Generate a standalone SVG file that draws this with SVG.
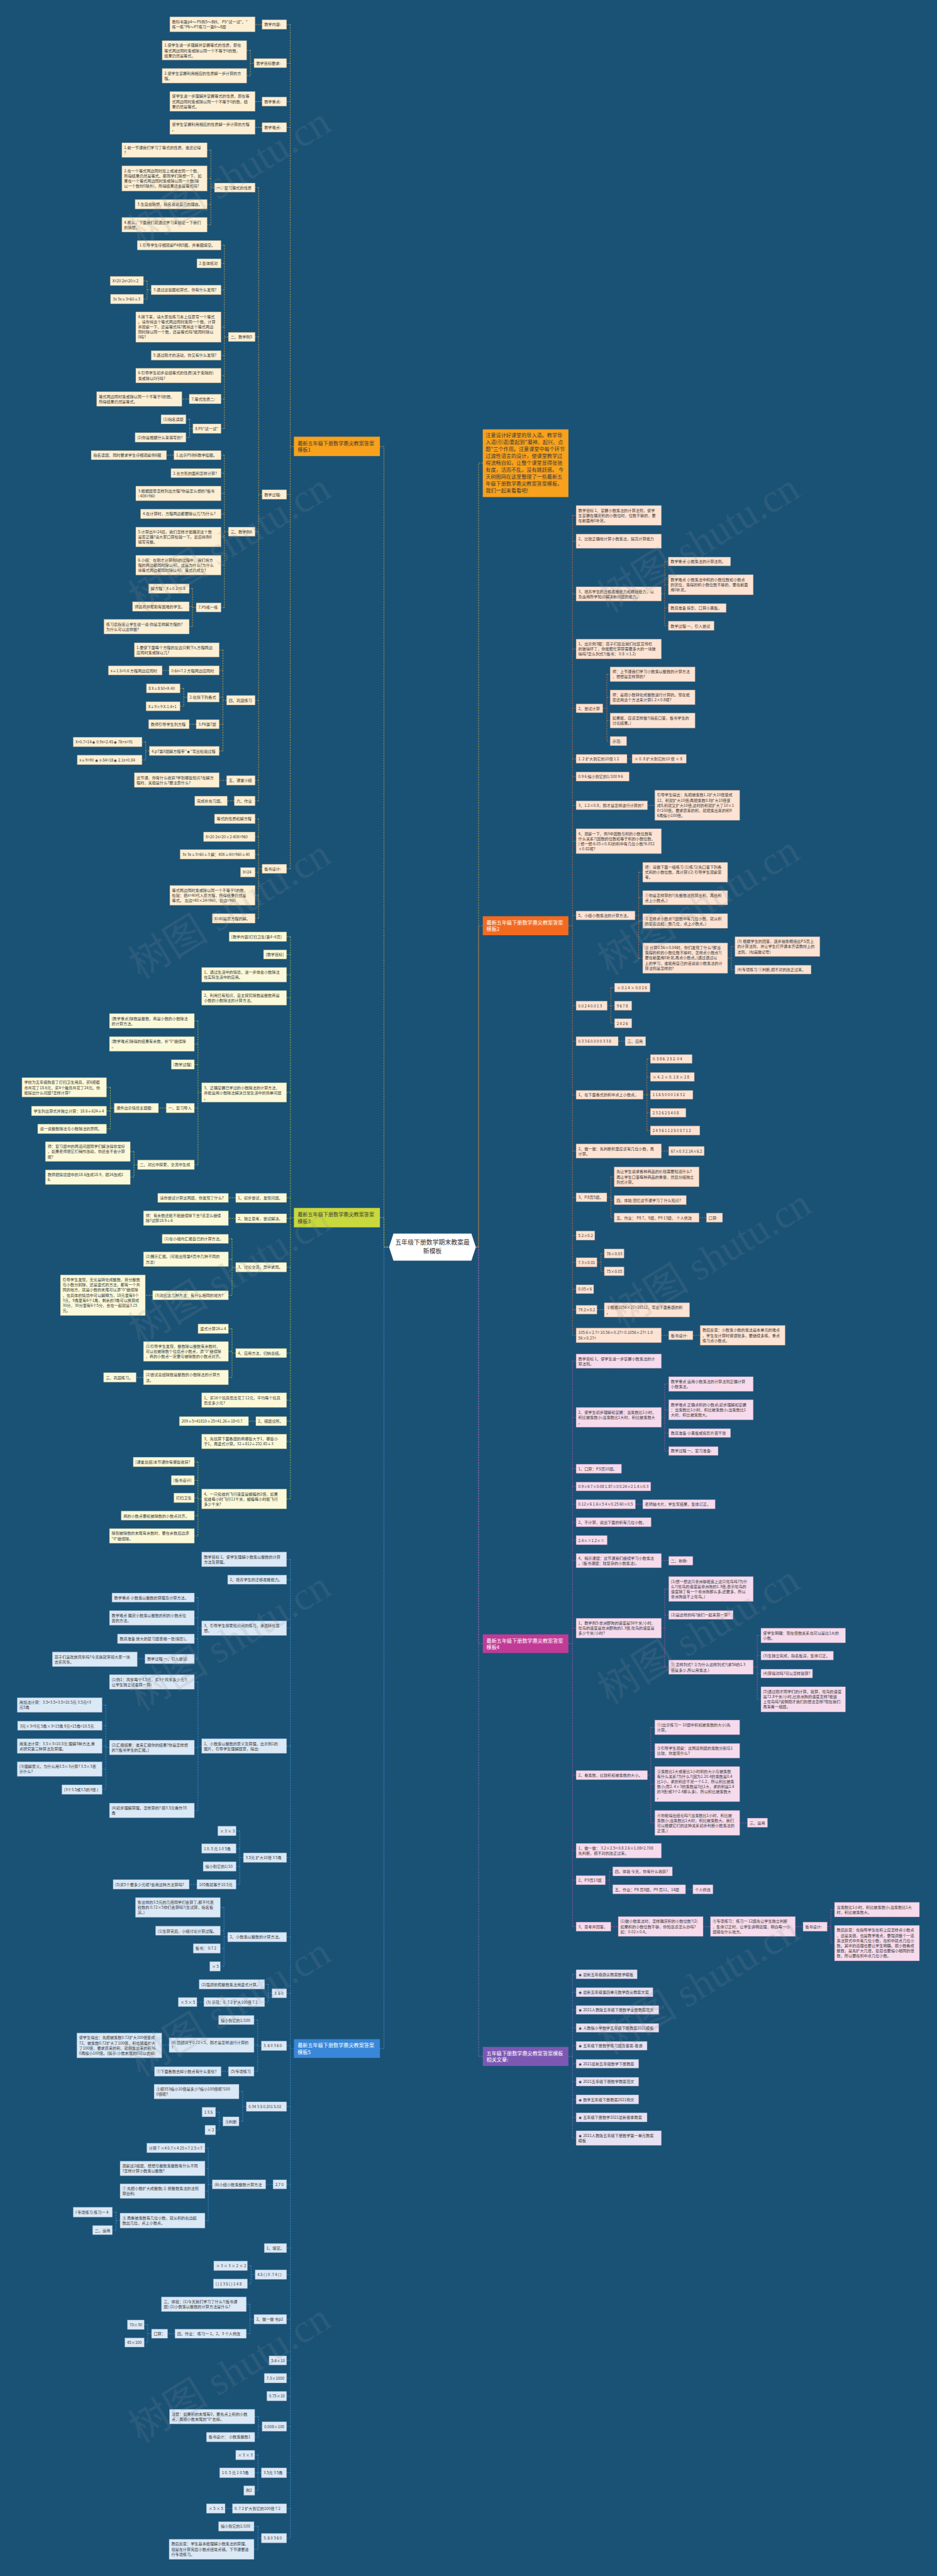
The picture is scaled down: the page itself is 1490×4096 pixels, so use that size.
<svg xmlns="http://www.w3.org/2000/svg" width="1490" height="4096" viewBox="0 0 1490 4096">
<style>
text{font-family:"Noto Sans CJK SC","Noto Sans",sans-serif;font-size:10.6px;fill:#3a3a3a}
g rect{stroke-width:1;stroke-dasharray:3 2}
.n1 rect{fill:#fcefd4;stroke:#a8926a}
.n3 rect{fill:#fbf9d9;stroke:#9fa366}
.n5 rect{fill:#dbe8f5;stroke:#7b9cbd}
.n2 rect{fill:#fde3d3;stroke:#c08c70}
.n4 rect{fill:#f6dbec;stroke:#ad7f9f}
.n6 rect{fill:#e7e1f1;stroke:#9186ab}
.br rect{stroke:none}
.br text{font-size:14px}
.w text{fill:#ffffff}
.c{fill:none;stroke-width:1.3;stroke-dasharray:4 3}
.c1{stroke:#e7ad3f}.c3{stroke:#c4d13f}.c5{stroke:#4c9ae4}.c2{stroke:#e97936}.c4{stroke:#c8559f}.c6{stroke:#9377c6}
.wm{font-family:"Liberation Serif","Noto Sans CJK SC",serif;font-size:110px;fill:#8a8f96;opacity:0.16}
</style>
<rect width="1490" height="4096" fill="#1a5276"/>
<g transform="scale(0.58203)">
<g id="connectors">
<path class="c c1" d="M1038,1220H1049V3407H1063M1319,1265H1307.5V3407H1300"/>
<path class="c c3" d="M1038,3326.5H1049V3407H1063"/>
<path class="c c5" d="M1038,5596.5H1049V3407H1063"/>
<path class="c c2" d="M1319,2529H1307.5V3407H1300"/>
<path class="c c4" d="M1319,4490.5H1307.5V3407H1300"/>
<path class="c c6" d="M1319,5618H1307.5V3407H1300"/>
<path class="c c1" d="M803,1220H793M793,67V2373.5M793,67H783M793,172.5H783M793,277.5H783M793,348H783M793,1351H783M793,2373.5H783M716,67H697M694,172.5H684M684,137.5V207M684,137.5H674M684,207H674M716,277.5H697M716,348H697M716,1351H706.5M706.5,512.5V2188M706.5,512.5H697M706.5,920.5H697M706.5,1452.5H697M706.5,1913H697M706.5,2132H697M706.5,2188H697M586,512.5H576M576,410V614M576,410H566M576,487.5H566M576,558H566M576,614H566M624,920.5H613M613,670V1171M613,670H604M613,719.5H604M613,792H604M613,893.5H604M613,971H604M613,1026H604M613,1090H604M613,1171H604M413,792H402M402,767.5V817M402,767.5H392M402,817H392M517,1090H497M527,1171H518M518,1145.5V1195M518,1145.5H508M518,1195H508M624,1452.5H613M613,1243.5V1659.5M613,1243.5H604M613,1292.5H604M613,1348H604M613,1404H604M613,1467H604M613,1544H604M613,1659.5H604M475,1243.5H455M536,1659.5H526M526,1608V1712M526,1608H517M526,1657H517M526,1712H517M619,1913H609M609,1775.5V2051.5M609,1775.5H599M609,1831.5H599M609,1905H599M609,1978.5H599M609,2051.5H599M462,1831.5H443M512,1905H502M502,1880.5V1929.5M502,1880.5H492M502,1929.5H492M536,1978.5H517M408,2051.5H398M398,2027V2076M398,2027H388M398,2076H388M619,2132H599M640,2188H621M716,2373.5H706.5M706.5,2237V2509M706.5,2237H697M706.5,2286H697M706.5,2334H697M706.5,2383H697M706.5,2446H697M706.5,2509H697"/>
<path class="c c3" d="M803,3326.5H793.5M793.5,2559V4095M793.5,2559H783M793.5,2607.5H783M793.5,2663H783M793.5,2726H783M793.5,2984.5H783M793.5,3272.5H783M793.5,3328.5H783M793.5,3462H783M793.5,3696.5H783M793.5,3825H783M793.5,3882.5H783M793.5,3938H783M793.5,4095H783M551,2984.5H541M541,2789V3182M541,2789H531M541,2852H531M541,2908H531M541,3027H531M541,3182H531M454,3027H433M312,3027H301.5M301.5,2970.5V3084M301.5,2970.5H291M301.5,3035H291M301.5,3084H291M376,3182H366M366,3146V3216M366,3146H356M366,3216H356M644,3272.5H624M644,3328.5H624M644,3462H634M634,3384.5V3538.5M634,3384.5H624M634,3440H624M634,3538.5H624M417,3538.5H397M644,3696.5H634M634,3630V3763M634,3630H624M634,3692H624M634,3763H624M392,3763H372M699,3882.5H679M551,4095H541M541,3994V4196M541,3994H531M541,4044H531M541,4092H531M541,4140.5H531M541,4196H531"/>
<path class="c c5" d="M803,5596.5H793.5M793.5,4260V6934M793.5,4260H783M793.5,4315.5H783M793.5,4448H783M793.5,4770H783M793.5,5075H783M793.5,5292H783M793.5,5445.5H783M793.5,5589H783M793.5,5755H783M793.5,5967.5H783M793.5,6141.5H783M793.5,6214H783M793.5,6336H783M793.5,6448.5H783M793.5,6497H783M793.5,6546H783M793.5,6629H783M793.5,6755.5H783M793.5,6853H783M793.5,6934H783M551,4448H541M541,4364.5V4532M541,4364.5H531M541,4420H531M541,4477H531M541,4532H531M396,4532H375M551,4770H541M541,4595V4946M541,4595H531M541,4774H531M541,4946H531M299,4774H289M289,4658V4889M289,4658H279M289,4714.5H279M289,4770H279M289,4833H279M289,4889H279M665,5075H655M655,5002V5148M655,5002H645M655,5050H645M655,5099H645M655,5148H645M538,5148H517M622,5292H612M612,5211V5372M612,5211H602M612,5274.5H602M612,5323H602M612,5372H602M743,5445.5H733M733,5421V5469.5M733,5421H723M733,5469.5H723M557,5469.5H538M714,5589H704M704,5518.5V5659M704,5518.5H694M704,5587H694M704,5659H694M462,5587H442M624,5659H604M673,5755H663M663,5714V5795.5M663,5714H653M663,5795.5H653M609,5795.5H599M599,5770V5819M599,5770H589M599,5819H589M746,5967.5H726M580,5967.5H569M569,5868V6066.5M569,5868H560M569,5924H560M569,5986H560M569,6066.5H560M328,6066.5H317M317,6043.5V6092.5M317,6043.5H307M317,6092.5H307M697,6214H686M686,6190V6239M686,6190H676M686,6239H676M694,6336H683M683,6295V6375.5M683,6295H673M683,6375.5H673M478,6375.5H458M414,6375.5H403.5M403.5,6351V6399.5M403.5,6351H394M403.5,6399.5H394M716,6629H706M706,6602V6658M706,6602H696M706,6658H696M714,6755.5H705M705,6707V6804M705,6707H696M705,6755.5H696M705,6804H696M635,6853H615M714,6934H705M705,6902V6964.5M705,6902H694M705,6964.5H694"/>
<path class="c c2" d="M1553,2529H1564M1564,1408V3648M1564,1408H1574M1564,1478.5H1574M1564,1622.5H1574M1564,1773H1574M1564,1935H1574M1564,2073H1574M1564,2121.5H1574M1564,2200H1574M1564,2298H1574M1564,2501H1574M1564,2747.5H1574M1564,2844.5H1574M1564,2991H1574M1564,3144.5H1574M1564,3271H1574M1564,3375.5H1574M1564,3448.5H1574M1564,3522H1574M1564,3578H1574M1564,3648H1574M1807,1622.5H1816M1816,1534V1709.5M1816,1534H1826M1816,1597.5H1826M1816,1661H1826M1816,1709.5H1826M1647,1935H1658M1658,1842V2024.5M1658,1842H1667M1658,1905H1667M1658,1968.5H1667M1658,2024.5H1667M1713,2073H1727M1769,2200H1789M1735,2501H1745M1745,2383V2617.5M1745,2383H1756M1745,2452.5H1756M1745,2516H1756M1745,2617.5H1756M1988,2617.5H1998M1998,2586V2649M1998,2586H2008M1998,2649H2008M1659,2747.5H1669M1669,2698V2795.5M1669,2698H1679M1669,2747.5H1679M1669,2795.5H1679M1689,2844.5H1708M1757,2991H1767.5M1767.5,2893V3088.5M1767.5,2893H1777M1767.5,2942H1777M1767.5,2991H1777M1767.5,3040H1777M1767.5,3088.5H1777M1807,3144.5H1827M1658,3271H1669M1669,3215V3326.5M1669,3215H1678M1669,3278.5H1678M1669,3326.5H1678M1910,3326.5H1930M1631,3448.5H1642M1642,3424.5V3473M1642,3424.5H1651M1642,3473H1651M1631,3578H1651M1807,3648H1827M1893,3648H1913"/>
<path class="c c4" d="M1553,4490.5H1564M1564,3718.5V5263.5M1564,3718.5H1574M1564,3872H1574M1564,4012.5H1574M1564,4061H1574M1564,4109.5H1574M1564,4158.5H1574M1564,4207.5H1574M1564,4263.5H1574M1564,4448H1574M1564,4849.5H1574M1564,5056H1574M1564,5136.5H1574M1564,5263.5H1574M1807,3872H1816M1816,3781V3964M1816,3781H1827M1816,3851.5H1827M1816,3915H1827M1816,3964H1827M1736,4109.5H1756M1807,4263.5H1827M1807,4448H1816M1816,4341V4554.5M1816,4341H1827M1816,4412H1827M1816,4554.5H1827M2058,4554.5H2069M2069,4468V4642.5M2069,4468H2079M2069,4523H2079M2069,4572H2079M2069,4642.5H2079M1769,4849.5H1778M1778,4719V4980M1778,4719H1789M1778,4783H1789M1778,4874H1789M1778,4980H1789M2021,4980H2042M1654,5136.5H1665M1665,5112.5V5161.5M1665,5112.5H1674M1665,5161.5H1674M1873,5161.5H1893M1669,5263.5H1689M1921,5263.5H1941M2173,5263.5H2194M2260,5263.5H2270M2270,5217V5308.5M2270,5217H2280M2270,5308.5H2280"/>
<path class="c c6" d="M1553,5618H1564M1564,5393.5V5841M1564,5393.5H1574M1564,5442.5H1574M1564,5491H1574M1564,5540H1574M1564,5589H1574M1564,5638H1574M1564,5687H1574M1564,5735.5H1574M1564,5784.5H1574M1564,5841H1574"/>
</g>
<g id="center"><polygon points="1063,3407 1075,3370 1288,3370 1300,3407 1288,3444 1075,3444" fill="#ffffff"/><text x="1181.5" y="3401" text-anchor="middle" style="font-size:17px;fill:#333">五年级下册数学期末教案最<tspan x="1181.5" dy="23">新模板</tspan></text></g>
<g id="branch1" class="br" transform="translate(803,1193)"><rect width="235" height="53" fill="#f7a11c"/><text x="10" y="23">最新五年级下册数学鼎尖教案答案<tspan x="10" dy="18">模板1</tspan></text></g>
<g id="branch3" class="br" transform="translate(803,3300)"><rect width="235" height="53" fill="#c9d83c"/><text x="10" y="23">最新五年级下册数学鼎尖教案答案<tspan x="10" dy="18">模板3</tspan></text></g>
<g id="branch5" class="br w" transform="translate(803,5571)"><rect width="235" height="51" fill="#3887d8"/><text x="10" y="22">最新五年级下册数学鼎尖教案答案<tspan x="10" dy="18">模板5</tspan></text></g>
<g id="intro" class="br" transform="translate(1319,1173)"><rect width="234" height="185" fill="#f7a11c"/><text x="8" y="21">注意设计好课堂的导入语。教学导<tspan x="8" dy="19">入语(引语)要起到"凝神、起兴、点</tspan><tspan x="8" dy="19">题"三个作用。注意课堂中每个环节</tspan><tspan x="8" dy="19">过渡性语言的设计，使课堂教学过</tspan><tspan x="8" dy="19">程流畅自如，让整个课堂显得张弛</tspan><tspan x="8" dy="19">有度，活而不乱，没有跳跃感。 今</tspan><tspan x="8" dy="19">天树图网在这里整理了一些最新五</tspan><tspan x="8" dy="19">年级下册数学鼎尖教案答案模板，</tspan><tspan x="8" dy="19">我们一起来看看吧!</tspan></text></g>
<g id="branch2" class="br w" transform="translate(1319,2503)"><rect width="234" height="52" fill="#f26a1f"/><text x="10" y="22">最新五年级下册数学鼎尖教案答案<tspan x="10" dy="18">模板2</tspan></text></g>
<g id="branch4" class="br w" transform="translate(1319,4465)"><rect width="234" height="51" fill="#c13b96"/><text x="10" y="22">最新五年级下册数学鼎尖教案答案<tspan x="10" dy="18">模板4</tspan></text></g>
<g id="branch6" class="br w" transform="translate(1319,5592)"><rect width="234" height="52" fill="#7d58b3"/><text x="10" y="22">五年级下册数学鼎尖教案答案模板<tspan x="10" dy="18">相关文章:</tspan></text></g>
<g id="t1nodes">
<g id="a1" class="n1" transform="translate(464,46)"><rect width="233" height="41"/><text x="6" y="17">教科书第p4～ P5例5～例6、 P5"试一试"、"<tspan x="6" dy="14">练一练"P6～P7练习一第6～8题</tspan></text></g>
<g id="a2" class="n1" transform="translate(716,54)"><rect width="67" height="26"/><text x="6" y="17">教学内容:</text></g>
<g id="a3" class="n1" transform="translate(443,111)"><rect width="231" height="53"/><text x="6" y="17">1.使学生进一步理解并掌握等式的性质，即在<tspan x="6" dy="14">等式两边同时乘或除以同一个不等于0的数，</tspan><tspan x="6" dy="14">结果仍然是等式。</tspan></text></g>
<g id="a4" class="n1" transform="translate(443,187)"><rect width="231" height="40"/><text x="6" y="17">2.使学生掌握利用相应的性质解一步计算的方<tspan x="6" dy="14">程。</tspan></text></g>
<g id="a5" class="n1" transform="translate(694,160)"><rect width="89" height="25"/><text x="6" y="17">教学目标要求:</text></g>
<g id="a6" class="n1" transform="translate(464,250)"><rect width="233" height="54"/><text x="6" y="17">使学生进一步理解并掌握等式的性质，即在等<tspan x="6" dy="14">式两边同时乘或除以同一个不等于0的数，结</tspan><tspan x="6" dy="14">果仍然是等式。</tspan></text></g>
<g id="a7" class="n1" transform="translate(716,265)"><rect width="67" height="25"/><text x="6" y="17">教学重点:</text></g>
<g id="a8" class="n1" transform="translate(464,327)"><rect width="233" height="40"/><text x="6" y="17">使学生掌握利用相应的性质解一步计算的方程<tspan x="6" dy="14">。</tspan></text></g>
<g id="a9" class="n1" transform="translate(716,335)"><rect width="67" height="26"/><text x="6" y="17">教学难点:</text></g>
<g id="a10" class="n1" transform="translate(333,390)"><rect width="233" height="40"/><text x="6" y="17">1.前一节课我们学习了等式的性质，谁还记得<tspan x="6" dy="14">?</tspan></text></g>
<g id="a11" class="n1" transform="translate(333,453)"><rect width="233" height="69"/><text x="6" y="17">2.在一个等式两边同时加上或减去同一个数，<tspan x="6" dy="14">所得结果仍然是等式。那同学们猜想一下，如</tspan><tspan x="6" dy="14">果在一个等式两边同时乘或除以同一个数(除</tspan><tspan x="6" dy="14">以一个数时0除外)，所得结果还会是等式吗?</tspan></text></g>
<g id="a12" class="n1" transform="translate(369,545)"><rect width="197" height="26"/><text x="6" y="17">3.生自由猜想，指名说说自己的理由。</text></g>
<g id="a13" class="n1" transform="translate(333,594)"><rect width="233" height="40"/><text x="6" y="17">4.那么，下面我们就通过学习来验证一下我们<tspan x="6" dy="14">的猜想。</tspan></text></g>
<g id="a14" class="n1" transform="translate(586,500)"><rect width="111" height="25"/><text x="6" y="17">一、复习等式的性质</text></g>
<g id="a15" class="n1" transform="translate(375,657)"><rect width="229" height="26"/><text x="6" y="17">1.引导学生仔细观察P4例5图，并看图填空。</text></g>
<g id="a16" class="n1" transform="translate(538,707)"><rect width="66" height="25"/><text x="6" y="17">2.集体核对</text></g>
<g id="a17" class="n1" transform="translate(301,755)"><rect width="91" height="25"/><text x="6" y="17">X=20 2x=20×2</text></g>
<g id="a18" class="n1" transform="translate(302,804)"><rect width="90" height="26"/><text x="6" y="17">3x 3x÷3=60÷3</text></g>
<g id="a19" class="n1" transform="translate(413,779)"><rect width="191" height="26"/><text x="6" y="17">3.通过这些图和算式，你有什么发现?</text></g>
<g id="a20" class="n1" transform="translate(371,852)"><rect width="233" height="83"/><text x="6" y="17">4.接下来，请大家在练习本上任意写一个等式<tspan x="6" dy="14">。请你将这个等式两边同时乘同一个数，计算</tspan><tspan x="6" dy="14">并观察一下，还是等式吗?再将这个等式两边</tspan><tspan x="6" dy="14">同时除以同一个数，还是等式吗?能同时除以</tspan><tspan x="6" dy="14">0吗?</tspan></text></g>
<g id="a21" class="n1" transform="translate(413,958)"><rect width="191" height="26"/><text x="6" y="17">5.通过刚才的活动，你又有什么发现?</text></g>
<g id="a22" class="n1" transform="translate(624,908)"><rect width="73" height="25"/><text x="6" y="17">二、教学例5</text></g>
<g id="a23" class="n1" transform="translate(371,1006)"><rect width="233" height="40"/><text x="6" y="17">6.引导学生初步总结等式的性质(关于乘除的)<tspan x="6" dy="14">乘或除以0行吗?</tspan></text></g>
<g id="a24" class="n1" transform="translate(264,1070)"><rect width="233" height="40"/><text x="6" y="17">等式两边同时乘或除以同一个不等于0的数，<tspan x="6" dy="14">所得结果仍然是等式。</tspan></text></g>
<g id="a25" class="n1" transform="translate(517,1077)"><rect width="87" height="26"/><text x="6" y="17">7.等式性质二:</text></g>
<g id="a26" class="n1" transform="translate(440,1133)"><rect width="68" height="25"/><text x="6" y="17">(1)指名读题</text></g>
<g id="a27" class="n1" transform="translate(369,1182)"><rect width="139" height="26"/><text x="6" y="17">(2)你是根据什么来填写的?</text></g>
<g id="a28" class="n1" transform="translate(527,1158)"><rect width="77" height="26"/><text x="6" y="17">8.P5"试一试"</text></g>
<g id="a29" class="n1" transform="translate(249,1231)"><rect width="206" height="25"/><text x="6" y="17">指名读题，同时要求学生仔细观察例6图</text></g>
<g id="a30" class="n1" transform="translate(475,1231)"><rect width="129" height="25"/><text x="6" y="17">1.出示P5例6教学挂图。</text></g>
<g id="a31" class="n1" transform="translate(467,1280)"><rect width="137" height="25"/><text x="6" y="17">2.长方形的面积怎样计算?</text></g>
<g id="a32" class="n1" transform="translate(371,1328)"><rect width="233" height="40"/><text x="6" y="17">3.根据题意怎样列出方程?你是怎么想的?板书<tspan x="6" dy="14">: 40X=960</tspan></text></g>
<g id="a33" class="n1" transform="translate(384,1391)"><rect width="220" height="26"/><text x="6" y="17">4.在计算时，方程两边都要除以几?为什么?</text></g>
<g id="a34" class="n1" transform="translate(371,1440)"><rect width="233" height="54"/><text x="6" y="17">5.计算出X=24后，我们怎样才能确定这个数<tspan x="6" dy="14">是否正确?请大家口算检验一下。最后将例6</tspan><tspan x="6" dy="14">填写完整。</tspan></text></g>
<g id="a35" class="n1" transform="translate(371,1517)"><rect width="233" height="54"/><text x="6" y="17">6.小结：在刚才计算例6的过程中，我们将方<tspan x="6" dy="14">程的两边都同时除以40，这是为什么?为什么</tspan><tspan x="6" dy="14">将等式两边都同时除以40，等式仍成立?</tspan></text></g>
<g id="a36" class="n1" transform="translate(406,1595)"><rect width="111" height="26"/><text x="6" y="17">解方程：X÷0.2=0.8</text></g>
<g id="a37" class="n1" transform="translate(362,1644)"><rect width="155" height="26"/><text x="6" y="17">师巡视并帮助有困难的学生。</text></g>
<g id="a38" class="n1" transform="translate(284,1692)"><rect width="233" height="40"/><text x="6" y="17">练习后指名让学生说一说:你是怎样解方程的?<tspan x="6" dy="14">为什么可以这样做?</tspan></text></g>
<g id="a39" class="n1" transform="translate(536,1647)"><rect width="68" height="25"/><text x="6" y="17">7.P5练一练</text></g>
<g id="a40" class="n1" transform="translate(624,1440)"><rect width="73" height="25"/><text x="6" y="17">三、教学例6</text></g>
<g id="a41" class="n1" transform="translate(716,1338)"><rect width="67" height="26"/><text x="6" y="17">教学过程:</text></g>
<g id="a42" class="n1" transform="translate(367,1756)"><rect width="232" height="39"/><text x="6" y="17">1.要使下面每个方程的左边只剩下x,方程两边<tspan x="6" dy="14">应同时乘或除以几?</tspan></text></g>
<g id="a43" class="n1" transform="translate(296,1819)"><rect width="147" height="25"/><text x="6" y="17">x÷1.5=0.6 方程两边应同时</text></g>
<g id="a44" class="n1" transform="translate(462,1819)"><rect width="137" height="25"/><text x="6" y="17">0.6x=7.2 方程两边应同时</text></g>
<g id="a45" class="n1" transform="translate(400,1868)"><rect width="92" height="25"/><text x="6" y="17">8 X÷8 50+X-40</text></g>
<g id="a46" class="n1" transform="translate(399,1917)"><rect width="93" height="25"/><text x="6" y="17">X÷9×9 X-1.4+1</text></g>
<g id="a47" class="n1" transform="translate(512,1892)"><rect width="87" height="26"/><text x="6" y="17">2.化简下列各式</text></g>
<g id="a48" class="n1" transform="translate(406,1966)"><rect width="111" height="25"/><text x="6" y="17">教师引导学生列方程</text></g>
<g id="a49" class="n1" transform="translate(536,1966)"><rect width="63" height="25"/><text x="6" y="17">3.P6第7题</text></g>
<g id="a50" class="n1" transform="translate(619,1900)"><rect width="78" height="26"/><text x="6" y="17">四、巩固练习</text></g>
<g id="a51" class="n1" transform="translate(200,2014)"><rect width="188" height="26"/><text x="6" y="17">X+0.7=14★ 0.9x=2.45★ 76+x=91</text></g>
<g id="a52" class="n1" transform="translate(211,2063)"><rect width="177" height="26"/><text x="6" y="17">x÷9=90 ★ x-54=18★ 2.1x=0.84</text></g>
<g id="a53" class="n1" transform="translate(408,2039)"><rect width="191" height="25"/><text x="6" y="17">4.p7第8题解方程带"★"写出检验过程</text></g>
<g id="a54" class="n1" transform="translate(367,2111)"><rect width="232" height="40"/><text x="6" y="17">这节课，你有什么收获?学到哪些知识?在解方<tspan x="6" dy="14">程时，关键是什么?要注意什么?</tspan></text></g>
<g id="a55" class="n1" transform="translate(619,2119)"><rect width="78" height="26"/><text x="6" y="17">五、课堂小结</text></g>
<g id="a56" class="n1" transform="translate(532,2175)"><rect width="89" height="26"/><text x="6" y="17">完成补充习题。</text></g>
<g id="a57" class="n1" transform="translate(640,2175)"><rect width="57" height="26"/><text x="6" y="17">六、作业</text></g>
<g id="a58" class="n1" transform="translate(586,2224)"><rect width="111" height="26"/><text x="6" y="17">等式的性质和解方程</text></g>
<g id="a59" class="n1" transform="translate(556,2273)"><rect width="141" height="26"/><text x="6" y="17">X=20 2x=20×2 40X=960</text></g>
<g id="a60" class="n1" transform="translate(492,2321)"><rect width="205" height="26"/><text x="6" y="17">3x 3x÷3=60÷3 解：40X÷40=960÷40</text></g>
<g id="a61" class="n1" transform="translate(657,2370)"><rect width="40" height="26"/><text x="6" y="17">X=24</text></g>
<g id="a62" class="n1" transform="translate(464,2419)"><rect width="233" height="54"/><text x="6" y="17">等式两边同时乘或除以同一个不等于0的数，<tspan x="6" dy="14">检验：把x=40代入原方程，所得结果仍然是</tspan><tspan x="6" dy="14">等式。 左边=40×24=960，右边=960</tspan></text></g>
<g id="a63" class="n1" transform="translate(580,2496)"><rect width="117" height="26"/><text x="6" y="17">X=40是原方程的解。</text></g>
<g id="a64" class="n1" transform="translate(716,2361)"><rect width="67" height="25"/><text x="6" y="17">板书设计:</text></g>
</g>
<g id="t3nodes">
<g id="b1" class="n3" transform="translate(626,2546)"><rect width="157" height="26"/><text x="6" y="17">[教学内容]打扫卫生(第4~6页)</text></g>
<g id="b2" class="n3" transform="translate(720,2595)"><rect width="63" height="25"/><text x="6" y="17">[教学目标]</text></g>
<g id="b3" class="n3" transform="translate(551,2643)"><rect width="232" height="40"/><text x="6" y="17">1、通过生活中的情境，进一步体会小数除法<tspan x="6" dy="14">在实际生活中的应用。</tspan></text></g>
<g id="b4" class="n3" transform="translate(551,2706)"><rect width="232" height="40"/><text x="6" y="17">2、利用已有知识，自主探究除数是整数商是<tspan x="6" dy="14">小数的小数除法的计算方法。</tspan></text></g>
<g id="b5" class="n3" transform="translate(551,2958)"><rect width="232" height="53"/><text x="6" y="17">3、正确掌握已学过的小数除法的计算方法，<tspan x="6" dy="14">并能运用小数除法解决日常生活中的简单问题</tspan><tspan x="6" dy="14">。</tspan></text></g>
<g id="b6" class="n3" transform="translate(299,2769)"><rect width="232" height="40"/><text x="6" y="17">[教学重点]除数是整数，商是小数的小数除法<tspan x="6" dy="14">的计算方法。</tspan></text></g>
<g id="b7" class="n3" transform="translate(299,2832)"><rect width="232" height="40"/><text x="6" y="17">[教学难点]除得的结果有余数，补"0"继续除<tspan x="6" dy="14">。</tspan></text></g>
<g id="b8" class="n3" transform="translate(468,2895)"><rect width="63" height="26"/><text x="6" y="17">[教学过程]</text></g>
<g id="b9" class="n3" transform="translate(454,3014)"><rect width="77" height="26"/><text x="6" y="17">一、复习导入</text></g>
<g id="b10" class="n3" transform="translate(312,3014)"><rect width="121" height="26"/><text x="6" y="17">课件出示情境主题图:</text></g>
<g id="b11" class="n3" transform="translate(60,2944)"><rect width="231" height="53"/><text x="6" y="17">学校为五年级购置了打扫卫生用具，买6把笤<tspan x="6" dy="14">帚共花了18.6元，买4个簸箕共花了24元。你</tspan><tspan x="6" dy="14">能提出什么问题?怎样计算?</tspan></text></g>
<g id="b12" class="n3" transform="translate(86,3022)"><rect width="205" height="26"/><text x="6" y="17">学生列出算式并独立计算：18.6÷624÷4</text></g>
<g id="b13" class="n3" transform="translate(103,3071)"><rect width="188" height="26"/><text x="6" y="17">说一说整数除法与小数除法的异同。</text></g>
<g id="b14" class="n3" transform="translate(124,3119)"><rect width="232" height="54"/><text x="6" y="17">师：复习题中的两道问题同学们解决得非常好<tspan x="6" dy="14">，如果老师把它们稍作改动，你还会不会计算</tspan><tspan x="6" dy="14">呢?</tspan></text></g>
<g id="b15" class="n3" transform="translate(124,3196)"><rect width="232" height="40"/><text x="6" y="17">教师把情境题中的18.6改成18.9，把24改成2<tspan x="6" dy="14">6.</tspan></text></g>
<g id="b16" class="n3" transform="translate(376,3169)"><rect width="155" height="26"/><text x="6" y="17">二、对比中探索，交流中生成</text></g>
<g id="b17" class="n3" transform="translate(431,3260)"><rect width="193" height="25"/><text x="6" y="17">请你尝试计算这两题，你发现了什么?</text></g>
<g id="b18" class="n3" transform="translate(644,3260)"><rect width="139" height="25"/><text x="6" y="17">1、初步尝试，发现问题。</text></g>
<g id="b19" class="n3" transform="translate(392,3308)"><rect width="232" height="40"/><text x="6" y="17">师：有余数还能不能继续除下去?该怎么继续<tspan x="6" dy="14">除?试算18.9÷6</tspan></text></g>
<g id="b20" class="n3" transform="translate(644,3316)"><rect width="139" height="25"/><text x="6" y="17">2、独立思考，尝试解决。</text></g>
<g id="b21" class="n3" transform="translate(443,3372)"><rect width="181" height="25"/><text x="6" y="17">(1)在小组内汇报自己的计算方法。</text></g>
<g id="b22" class="n3" transform="translate(392,3420)"><rect width="232" height="40"/><text x="6" y="17">(2)展示汇报。(可能出现第4页中几种不同的<tspan x="6" dy="14">方法)</tspan></text></g>
<g id="b23" class="n3" transform="translate(165,3483)"><rect width="232" height="111"/><text x="6" y="17">引导学生发现，无论是转化成整数，拆分整数<tspan x="6" dy="14">与小数分别除，还是竖式的方法，都有一个共</tspan><tspan x="6" dy="14">同的地方，就是小数的末尾可以添"0"继续除</tspan><tspan x="6" dy="14">，在具体的情境中可以解释为，18元里有6个</tspan><tspan x="6" dy="14">3元，9角里有6个1角，剩余的3角可以换算成</tspan><tspan x="6" dy="14">30分，30分里有6个5分，合在一起就是3.15</tspan><tspan x="6" dy="14">元。</tspan></text></g>
<g id="b24" class="n3" transform="translate(417,3526)"><rect width="207" height="25"/><text x="6" y="17">(3)对比这几种方法：有什么相同的地方?</text></g>
<g id="b25" class="n3" transform="translate(644,3449)"><rect width="139" height="26"/><text x="6" y="17">3、讨论交流，异中求同。</text></g>
<g id="b26" class="n3" transform="translate(541,3617)"><rect width="83" height="26"/><text x="6" y="17">竖式计算26÷4</text></g>
<g id="b27" class="n3" transform="translate(392,3665)"><rect width="232" height="54"/><text x="6" y="17">(1)引导学生发现，整数除以整数有余数时，<tspan x="6" dy="14">可以在被除数个位后点小数点，添"0"继续除</tspan><tspan x="6" dy="14">，商的小数点一定要与被除数的小数点对齐。</tspan></text></g>
<g id="b28" class="n3" transform="translate(283,3750)"><rect width="89" height="26"/><text x="6" y="17">三、巩固练习。</text></g>
<g id="b29" class="n3" transform="translate(392,3743)"><rect width="232" height="40"/><text x="6" y="17">(2)尝试总结除数是整数的小数除法的计算方<tspan x="6" dy="14">法。</tspan></text></g>
<g id="b30" class="n3" transform="translate(644,3684)"><rect width="139" height="25"/><text x="6" y="17">4、应用方法，归纳总结。</text></g>
<g id="b31" class="n3" transform="translate(551,3805)"><rect width="232" height="40"/><text x="6" y="17">1、买16个玩具恐龙花了12元，平均每个玩具<tspan x="6" dy="14">恐龙多少元?</tspan></text></g>
<g id="b32" class="n3" transform="translate(490,3870)"><rect width="189" height="25"/><text x="6" y="17">209÷5=41810÷25=41.26÷18=0.7</text></g>
<g id="b33" class="n3" transform="translate(699,3870)"><rect width="84" height="25"/><text x="6" y="17">2、错题诊所。</text></g>
<g id="b34" class="n3" transform="translate(551,3918)"><rect width="232" height="40"/><text x="6" y="17">3、先估算下面各题的商哪些大于1，哪些小<tspan x="6" dy="14">于1，再竖式计算。32÷812÷252.45÷3</tspan></text></g>
<g id="b35" class="n3" transform="translate(364,3981)"><rect width="167" height="26"/><text x="6" y="17">[课堂总结]本节课你有哪些收获?</text></g>
<g id="b36" class="n3" transform="translate(468,4031)"><rect width="63" height="26"/><text x="6" y="17">[板书设计]</text></g>
<g id="b37" class="n3" transform="translate(475,4079)"><rect width="56" height="26"/><text x="6" y="17">打扫卫生</text></g>
<g id="b38" class="n3" transform="translate(331,4128)"><rect width="200" height="25"/><text x="6" y="17">商的小数点要和被除数的小数点对齐。</text></g>
<g id="b39" class="n3" transform="translate(299,4176)"><rect width="232" height="40"/><text x="6" y="17">除到被除数的末尾有余数时，要在余数后边添<tspan x="6" dy="14">"0"继续除。</tspan></text></g>
<g id="b40" class="n3" transform="translate(551,4068)"><rect width="232" height="54"/><text x="6" y="17">4、一只蜜蜂的飞行速度是蝴蝶的2倍，如果<tspan x="6" dy="14">蜜蜂每小时飞行11千米，蝴蝶每小时能飞行</tspan><tspan x="6" dy="14">多少千米?</tspan></text></g>
</g>
<g id="t5nodes">
<g id="c1" class="n5" transform="translate(551,4240)"><rect width="232" height="40"/><text x="6" y="17">教学目标 1、使学生理解小数乘以整数的计算<tspan x="6" dy="14">方法及算理。</tspan></text></g>
<g id="c2" class="n5" transform="translate(622,4303)"><rect width="161" height="25"/><text x="6" y="17">2、培养学生的迁移类推能力。</text></g>
<g id="c3" class="n5" transform="translate(306,4352)"><rect width="225" height="25"/><text x="6" y="17">教学重点 小数乘以整数的算理及计算方法。</text></g>
<g id="c4" class="n5" transform="translate(299,4400)"><rect width="232" height="40"/><text x="6" y="17">教学难点 确定小数乘以整数的积的小数点位<tspan x="6" dy="14">置的方法。</tspan></text></g>
<g id="c5" class="n5" transform="translate(551,4428)"><rect width="232" height="40"/><text x="6" y="17">3、引导学生探索知识间的练习，渗透转化思<tspan x="6" dy="14">想。</tspan></text></g>
<g id="c6" class="n5" transform="translate(321,4464)"><rect width="210" height="26"/><text x="6" y="17">教具准备 放大的复习题表格一张(投影)。</text></g>
<g id="c7" class="n5" transform="translate(143,4513)"><rect width="232" height="40"/><text x="6" y="17">孩子们喜欢放风筝吗?今天我就带领大家一块<tspan x="6" dy="14">去买风筝。</tspan></text></g>
<g id="c8" class="n5" transform="translate(396,4519)"><rect width="135" height="26"/><text x="6" y="17">教学过程 一、引入尝试:</text></g>
<g id="c9" class="n5" transform="translate(299,4575)"><rect width="232" height="40"/><text x="6" y="17">(1)例1：风筝每个3.5元，买3个风筝多少元?(<tspan x="6" dy="14">让学生独立试着算一算)</tspan></text></g>
<g id="c10" class="n5" transform="translate(299,4754)"><rect width="232" height="40"/><text x="6" y="17">(2)汇报结果：谁来汇报你的结果?你是怎样想<tspan x="6" dy="14">的?(板书学生的汇报。)</tspan></text></g>
<g id="c11" class="n5" transform="translate(47,4638)"><rect width="232" height="40"/><text x="6" y="17">用加法计算：3.5+3.5+3.5=10.5元 3.5元=3<tspan x="6" dy="14">元5角</tspan></text></g>
<g id="c12" class="n5" transform="translate(48,4702)"><rect width="231" height="25"/><text x="6" y="17">3元×3=9元 5角×3=15角 9元+15角=10.5元</text></g>
<g id="c13" class="n5" transform="translate(47,4750)"><rect width="232" height="40"/><text x="6" y="17">用乘法计算：3.5×3=10.5元 理解3种方法,重<tspan x="6" dy="14">点研究第三种算法及算理。</tspan></text></g>
<g id="c14" class="n5" transform="translate(47,4813)"><rect width="232" height="40"/><text x="6" y="17">(3)理解意义。为什么用3.5×3计算? 3.5×3表<tspan x="6" dy="14">示什么?</tspan></text></g>
<g id="c15" class="n5" transform="translate(169,4876)"><rect width="110" height="26"/><text x="6" y="17">(3个3.5或3.5的3倍.)</text></g>
<g id="c16" class="n5" transform="translate(299,4926)"><rect width="232" height="40"/><text x="6" y="17">(4)初步理解算理。怎样算的? 把3.5元看作35<tspan x="6" dy="14">角</tspan></text></g>
<g id="c17" class="n5" transform="translate(551,4750)"><rect width="232" height="40"/><text x="6" y="17">1、小数乘以整数的意义及算理。出示例1的<tspan x="6" dy="14">图片，引导学生理解题意，得出:</tspan></text></g>
<g id="c18" class="n5" transform="translate(595,4989)"><rect width="50" height="26"/><text x="6" y="17">× 3 × 3</text></g>
<g id="c19" class="n5" transform="translate(551,5037)"><rect width="94" height="26"/><text x="6" y="17">1 0. 5 元 1 0 5角</text></g>
<g id="c20" class="n5" transform="translate(555,5086)"><rect width="90" height="26"/><text x="6" y="17">缩小到它的1/10</text></g>
<g id="c21" class="n5" transform="translate(309,5135)"><rect width="208" height="26"/><text x="6" y="17">(5)买5个要多少元呢?会用这种方法算吗?</text></g>
<g id="c22" class="n5" transform="translate(538,5135)"><rect width="107" height="26"/><text x="6" y="17">105角就等于10.5元</text></g>
<g id="c23" class="n5" transform="translate(665,5062)"><rect width="118" height="26"/><text x="6" y="17">3.5元 扩大10倍 3 5角</text></g>
<g id="c24" class="n5" transform="translate(370,5184)"><rect width="232" height="54"/><text x="6" y="17">象这样的3.5元的几倍同学们会算了,那不代表<tspan x="6" dy="14">钱数的 0.72×5你们会算吗?(生试算，指名板</tspan><tspan x="6" dy="14">演。)</tspan></text></g>
<g id="c25" class="n5" transform="translate(425,5262)"><rect width="177" height="25"/><text x="6" y="17">(1)生算完后，小组讨论计算过程。</text></g>
<g id="c26" class="n5" transform="translate(528,5310)"><rect width="74" height="26"/><text x="6" y="17">板书： 0.7 2</text></g>
<g id="c27" class="n5" transform="translate(573,5359)"><rect width="29" height="26"/><text x="6" y="17">× 5</text></g>
<g id="c28" class="n5" transform="translate(622,5279)"><rect width="161" height="26"/><text x="6" y="17">2、小数乘以整数的计算方法。</text></g>
<g id="c29" class="n5" transform="translate(544,5408)"><rect width="179" height="26"/><text x="6" y="17">(2)强调依照整数乘法用竖式计算。</text></g>
<g id="c30" class="n5" transform="translate(487,5457)"><rect width="51" height="25"/><text x="6" y="17">× 5 × 5</text></g>
<g id="c31" class="n5" transform="translate(557,5457)"><rect width="166" height="25"/><text x="6" y="17">(3) 示范：0. 7 2 扩大100倍 7 2</text></g>
<g id="c32" class="n5" transform="translate(743,5433)"><rect width="40" height="25"/><text x="6" y="17">3. 6 0</text></g>
<g id="c33" class="n5" transform="translate(597,5506)"><rect width="97" height="25"/><text x="6" y="17">缩小到它的1/100</text></g>
<g id="c34" class="n5" transform="translate(210,5554)"><rect width="232" height="68"/><text x="6" y="17">使学生得出：先把被乘数0.72扩大100倍变成<tspan x="6" dy="14">72，被乘数0.72扩大了100倍，积也随着扩大</tspan><tspan x="6" dy="14">了100倍，要求原来的积，就把乘出来的积36</tspan><tspan x="6" dy="14">0再缩小100倍。(提示:小数末尾的0可以去掉)</tspan></text></g>
<g id="c35" class="n5" transform="translate(462,5567)"><rect width="232" height="40"/><text x="6" y="17">(4) 回顾对于0.72×5，刚才是怎样进行计算的<tspan x="6" dy="14">?</tspan></text></g>
<g id="c36" class="n5" transform="translate(422,5646)"><rect width="182" height="26"/><text x="6" y="17">①下面各数去掉小数点有什么变化?</text></g>
<g id="c37" class="n5" transform="translate(624,5646)"><rect width="70" height="26"/><text x="6" y="17">(5)专项练习</text></g>
<g id="c38" class="n5" transform="translate(714,5576)"><rect width="69" height="26"/><text x="6" y="17">3. 6 0 3 6 0</text></g>
<g id="c39" class="n5" transform="translate(421,5694)"><rect width="232" height="40"/><text x="6" y="17">②把353缩小10倍是多少?缩小100倍呢?100<tspan x="6" dy="14">0倍呢?</tspan></text></g>
<g id="c40" class="n5" transform="translate(552,5757)"><rect width="37" height="26"/><text x="6" y="17">1 3.5</text></g>
<g id="c41" class="n5" transform="translate(560,5806)"><rect width="29" height="26"/><text x="6" y="17">× 2</text></g>
<g id="c42" class="n5" transform="translate(609,5783)"><rect width="44" height="25"/><text x="6" y="17">③判断</text></g>
<g id="c43" class="n5" transform="translate(673,5742)"><rect width="110" height="26"/><text x="6" y="17">0.34 3.5 0.201 5.02</text></g>
<g id="c44" class="n5" transform="translate(401,5855)"><rect width="159" height="26"/><text x="6" y="17">计算 7 ×4 0.7×4 25×7 2.5×7</text></g>
<g id="c45" class="n5" transform="translate(328,5904)"><rect width="232" height="40"/><text x="6" y="17">观察这2组题，想想与整数乘整数有什么不同<tspan x="6" dy="14">?怎样计算小数乘以整数?</tspan></text></g>
<g id="c46" class="n5" transform="translate(328,5966)"><rect width="232" height="40"/><text x="6" y="17">① 先把小数扩大成整数;② 按整数乘法的法则<tspan x="6" dy="14">算出积;</tspan></text></g>
<g id="c47" class="n5" transform="translate(580,5955)"><rect width="146" height="25"/><text x="6" y="17">(6)小结小数乘整数计算方法</text></g>
<g id="c48" class="n5" transform="translate(746,5955)"><rect width="37" height="25"/><text x="6" y="17">2.7 0</text></g>
<g id="c49" class="n5" transform="translate(328,6046)"><rect width="232" height="41"/><text x="6" y="17">③ 再看被乘数有几位小数，就从积的右边起<tspan x="6" dy="14">数出几位，点上小数点。</tspan></text></g>
<g id="c50" class="n5" transform="translate(200,6030)"><rect width="107" height="27"/><text x="6" y="17">I 专项练习 练习一 4</text></g>
<g id="c51" class="n5" transform="translate(253,6080)"><rect width="54" height="25"/><text x="6" y="17">二、运用</text></g>
<g id="c52" class="n5" transform="translate(722,6129)"><rect width="61" height="25"/><text x="6" y="17">1、填空。</text></g>
<g id="c53" class="n5" transform="translate(584,6177)"><rect width="92" height="26"/><text x="6" y="17">× 3 × 3 × 2 × 2</text></g>
<g id="c54" class="n5" transform="translate(583,6226)"><rect width="93" height="26"/><text x="6" y="17">( ) 1 3 5 ( ) 1 4 8</text></g>
<g id="c55" class="n5" transform="translate(697,6201)"><rect width="86" height="26"/><text x="6" y="17">4.5 ( ) 0 .7 4 ( )</text></g>
<g id="c56" class="n5" transform="translate(441,6275)"><rect width="232" height="40"/><text x="6" y="17">三、体验：(1)今天我们学习了什么?(板书课<tspan x="6" dy="14">题) (2)小数乘以整数的计算方法是什么?</tspan></text></g>
<g id="c57" class="n5" transform="translate(478,6363)"><rect width="195" height="25"/><text x="6" y="17">四、作业： 练习一 1、2、3 个人修改</text></g>
<g id="c58" class="n5" transform="translate(414,6363)"><rect width="44" height="25"/><text x="6" y="17">口算：</text></g>
<g id="c59" class="n5" transform="translate(348,6338)"><rect width="46" height="26"/><text x="6" y="17">70×30</text></g>
<g id="c60" class="n5" transform="translate(341,6387)"><rect width="53" height="25"/><text x="6" y="17">45×100</text></g>
<g id="c61" class="n5" transform="translate(694,6323)"><rect width="89" height="26"/><text x="6" y="17">2、做一做 书p2</text></g>
<g id="c62" class="n5" transform="translate(735,6436)"><rect width="48" height="25"/><text x="6" y="17">5.6×10</text></g>
<g id="c63" class="n5" transform="translate(722,6484)"><rect width="61" height="26"/><text x="6" y="17">7.3×1000</text></g>
<g id="c64" class="n5" transform="translate(729,6533)"><rect width="54" height="26"/><text x="6" y="17">0.75×10</text></g>
<g id="c65" class="n5" transform="translate(463,6582)"><rect width="233" height="40"/><text x="6" y="17">注意：如果积的末尾有0，要先点上积的小数<tspan x="6" dy="14">点，再把小数末尾的"0"去掉。</tspan></text></g>
<g id="c66" class="n5" transform="translate(564,6645)"><rect width="132" height="26"/><text x="6" y="17">板书设计： 小数乘整数1</text></g>
<g id="c67" class="n5" transform="translate(716,6616)"><rect width="67" height="26"/><text x="6" y="17">0.008×100</text></g>
<g id="c68" class="n5" transform="translate(644,6694)"><rect width="52" height="26"/><text x="6" y="17">× 3 × 3</text></g>
<g id="c69" class="n5" transform="translate(600,6742)"><rect width="96" height="27"/><text x="6" y="17">1 0. 5 元 1 0 5角</text></g>
<g id="c70" class="n5" transform="translate(666,6791)"><rect width="30" height="26"/><text x="6" y="17">例2</text></g>
<g id="c71" class="n5" transform="translate(714,6742)"><rect width="69" height="27"/><text x="6" y="17">3.5元 3 5角</text></g>
<g id="c72" class="n5" transform="translate(564,6840)"><rect width="51" height="26"/><text x="6" y="17">× 5 × 5</text></g>
<g id="c73" class="n5" transform="translate(635,6840)"><rect width="148" height="26"/><text x="6" y="17">0. 7 2 扩大到它的100倍 7 2</text></g>
<g id="c74" class="n5" transform="translate(597,6889)"><rect width="97" height="26"/><text x="6" y="17">缩小到它的1/100</text></g>
<g id="c75" class="n5" transform="translate(462,6937)"><rect width="232" height="55"/><text x="6" y="17">教后反思：学生基本能理解小数乘法的算理，<tspan x="6" dy="14">但是在计算完后小数点经常点错。下节课要进</tspan><tspan x="6" dy="14">行专项练习。</tspan></text></g>
<g id="c76" class="n5" transform="translate(714,6921)"><rect width="69" height="26"/><text x="6" y="17">3. 6 0 3 6 0</text></g>
</g>
<g id="t2nodes">
<g id="d1" class="n2" transform="translate(1574,1381)"><rect width="233" height="54"/><text x="6" y="17">教学目标 1、掌握小数乘法的计算法则，使学<tspan x="6" dy="14">生掌握在确定积的小数位时，位数不够的，要</tspan><tspan x="6" dy="14">在前面用0补足。</tspan></text></g>
<g id="d2" class="n2" transform="translate(1574,1459)"><rect width="233" height="39"/><text x="6" y="17">2、比较正确地计算小数乘法，提高计算能力<tspan x="6" dy="14">。</tspan></text></g>
<g id="d3" class="n2" transform="translate(1574,1603)"><rect width="233" height="39"/><text x="6" y="17">3、培养学生的迁移类推能力和概括能力，以<tspan x="6" dy="14">及运用所学知识解决新问题的能力。</tspan></text></g>
<g id="d4" class="n2" transform="translate(1826,1522)"><rect width="170" height="24"/><text x="6" y="16">教学重点 小数乘法的计算法则。</text></g>
<g id="d5" class="n2" transform="translate(1826,1570)"><rect width="232" height="55"/><text x="6" y="17">教学难点 小数乘法中积的小数位数和小数点<tspan x="6" dy="14">的定位，乘得的积小数位数不够的，要在前面</tspan><tspan x="6" dy="14">用0补足。</tspan></text></g>
<g id="d6" class="n2" transform="translate(1826,1649)"><rect width="158" height="24"/><text x="6" y="16">教具准备 投影、口算小黑板。</text></g>
<g id="d7" class="n2" transform="translate(1826,1697)"><rect width="125" height="25"/><text x="6" y="17">教学过程 一、引入尝试</text></g>
<g id="d8" class="n2" transform="translate(1574,1746)"><rect width="233" height="54"/><text x="6" y="17">1、出示例3图：孩子们最近我们社区宣传栏<tspan x="6" dy="14">的玻璃坏了，你能帮忙算算需要多大的一块玻</tspan><tspan x="6" dy="14">璃吗?怎么列式?(板书： 0.8 ×1.2)</tspan></text></g>
<g id="d9" class="n2" transform="translate(1574,1923)"><rect width="73" height="24"/><text x="6" y="16">2、尝试计算</text></g>
<g id="d10" class="n2" transform="translate(1667,1822)"><rect width="232" height="40"/><text x="6" y="17">师：上节课我们学习小数乘以整数的计算方法<tspan x="6" dy="14">，想想是怎样算的?</tspan></text></g>
<g id="d11" class="n2" transform="translate(1667,1885)"><rect width="232" height="40"/><text x="6" y="17">师：是把小数转化成整数进行计算的。现在能<tspan x="6" dy="14">否还用这个方法来计算1.2×0.8呢?</tspan></text></g>
<g id="d12" class="n2" transform="translate(1667,1948)"><rect width="232" height="41"/><text x="6" y="17">如果能，应该怎样做?(指名口答，板书学生的<tspan x="6" dy="14">讨论结果。)</tspan></text></g>
<g id="d13" class="n2" transform="translate(1667,2012)"><rect width="45" height="25"/><text x="6" y="17">示范:</text></g>
<g id="d14" class="n2" transform="translate(1574,2061)"><rect width="139" height="24"/><text x="6" y="16">1. 2 扩大到它的10倍 1 2</text></g>
<g id="d15" class="n2" transform="translate(1727,2061)"><rect width="148" height="24"/><text x="6" y="16">× 0. 8 扩大到它的10 倍 × 8</text></g>
<g id="d16" class="n2" transform="translate(1574,2109)"><rect width="145" height="25"/><text x="6" y="17">0.9 6 缩小到它的1/100 9 6</text></g>
<g id="d17" class="n2" transform="translate(1574,2188)"><rect width="195" height="24"/><text x="6" y="16">3、1.2×0.8，刚才是怎样进行计算的?</text></g>
<g id="d18" class="n2" transform="translate(1789,2159)"><rect width="232" height="82"/><text x="6" y="17">引导学生得出：先把被乘数1.2扩大10倍变成<tspan x="6" dy="14">12，积就扩大10倍;再把乘数0.8扩大10倍变</tspan><tspan x="6" dy="14">成8,积就又扩大10倍,这时的积就扩大了10×1</tspan><tspan x="6" dy="14">0=100倍。要求原来的积，就把乘出来的积9</tspan><tspan x="6" dy="14">6再缩小100倍。</tspan></text></g>
<g id="d19" class="n2" transform="translate(1574,2264)"><rect width="233" height="68"/><text x="6" y="17">4、观察一下，例3中因数与积的小数位数有<tspan x="6" dy="14">什么关系?(因数的位数和等于积的小数位数。</tspan><tspan x="6" dy="14">) 想一想:6.05×0.82的积中有几位小数?6.052</tspan><tspan x="6" dy="14">×0.82呢?</tspan></text></g>
<g id="d20" class="n2" transform="translate(1756,2356)"><rect width="232" height="54"/><text x="6" y="17">师：请做下面一组练习 (1)练习(先口答下列各<tspan x="6" dy="14">式积的小数位数，再计算)(2) 引导学生观察思</tspan><tspan x="6" dy="14">考。</tspan></text></g>
<g id="d21" class="n2" transform="translate(1756,2433)"><rect width="232" height="39"/><text x="6" y="17">①你是怎样算的?(先整数法则算出积，再给积<tspan x="6" dy="14">点上小数点。)</tspan></text></g>
<g id="d22" class="n2" transform="translate(1756,2496)"><rect width="232" height="40"/><text x="6" y="17">②怎样点小数点?(因数中有几位小数，就从积<tspan x="6" dy="14">的最右边起，数几位，点上小数点。)</tspan></text></g>
<g id="d23" class="n2" transform="translate(1756,2576)"><rect width="232" height="83"/><text x="6" y="17">③ 计算0.56×0.04时，你们发现了什么?那当<tspan x="6" dy="14">乘得的积的小数位数不够时，怎样点小数点?(</tspan><tspan x="6" dy="14">要在前面用0补足,再点小数点。)通过通过以</tspan><tspan x="6" dy="14">上的学习，谁能用自己的话说说小数乘法的计</tspan><tspan x="6" dy="14">算法则是怎样的?</tspan></text></g>
<g id="d24" class="n2" transform="translate(2008,2559)"><rect width="232" height="54"/><text x="6" y="17">(3) 根据学生的回答，逐步抽象概括出P.5页上<tspan x="6" dy="14">的计算法则，并让学生打开课本齐读教材上的</tspan><tspan x="6" dy="14">法则。(勾画做记号)</tspan></text></g>
<g id="d25" class="n2" transform="translate(2008,2637)"><rect width="208" height="24"/><text x="6" y="16">(4)专项练习 ①判断,把不对的改正过来。</text></g>
<g id="d26" class="n2" transform="translate(1574,2489)"><rect width="161" height="24"/><text x="6" y="16">5、小结小数乘法的计算方法。</text></g>
<g id="d27" class="n2" transform="translate(1574,2735)"><rect width="85" height="25"/><text x="6" y="17">0.0 2 4 0.0 1 3</text></g>
<g id="d28" class="n2" transform="translate(1679,2686)"><rect width="97" height="24"/><text x="6" y="16">× 0.1 4 × 0.0 2 6</text></g>
<g id="d29" class="n2" transform="translate(1679,2735)"><rect width="47" height="25"/><text x="6" y="17">9 6 7 8</text></g>
<g id="d30" class="n2" transform="translate(1679,2783)"><rect width="47" height="25"/><text x="6" y="17">2 4 2 6</text></g>
<g id="d31" class="n2" transform="translate(1574,2832)"><rect width="115" height="25"/><text x="6" y="17">0.3 3 6 0.0 0 0 3 3 8</text></g>
<g id="d32" class="n2" transform="translate(1708,2832)"><rect width="56" height="25"/><text x="6" y="17">三、应用</text></g>
<g id="d33" class="n2" transform="translate(1574,2979)"><rect width="183" height="24"/><text x="6" y="16">1、在下面各式的积中点上小数点。</text></g>
<g id="d34" class="n2" transform="translate(1777,2881)"><rect width="114" height="24"/><text x="6" y="16">0. 5 8 6. 2 5 2. 0 4</text></g>
<g id="d35" class="n2" transform="translate(1777,2930)"><rect width="120" height="24"/><text x="6" y="16">× 4. 2 × 0. 1 8 × 2 8</text></g>
<g id="d36" class="n2" transform="translate(1777,2979)"><rect width="116" height="24"/><text x="6" y="16">1 1 6 5 0 0 0 1 6 3 2</text></g>
<g id="d37" class="n2" transform="translate(1777,3028)"><rect width="97" height="24"/><text x="6" y="16">2 3 2 6 2 5 4 0 8</text></g>
<g id="d38" class="n2" transform="translate(1777,3076)"><rect width="135" height="25"/><text x="6" y="17">2 4 3 6 1 1 2 5 0 5 7 1 2</text></g>
<g id="d39" class="n2" transform="translate(1574,3125)"><rect width="233" height="39"/><text x="6" y="17">2、做一做：先判断积里应该有几位小数，再<tspan x="6" dy="14">计算。</tspan></text></g>
<g id="d40" class="n2" transform="translate(1827,3132)"><rect width="97" height="25"/><text x="6" y="17">67×0.3 2.14×6.2</text></g>
<g id="d41" class="n2" transform="translate(1574,3259)"><rect width="84" height="24"/><text x="6" y="16">3、P.8页5题。</text></g>
<g id="d42" class="n2" transform="translate(1678,3188)"><rect width="232" height="54"/><text x="6" y="17">先让学生说求各种商品的价钱需要知道什么?<tspan x="6" dy="14">再让学生口答每种商品的重量，然后分组独立</tspan><tspan x="6" dy="14">列式计算。</tspan></text></g>
<g id="d43" class="n2" transform="translate(1678,3266)"><rect width="197" height="25"/><text x="6" y="17">四、体验 回忆这节课学习了什么知识?</text></g>
<g id="d44" class="n2" transform="translate(1678,3314)"><rect width="232" height="25"/><text x="6" y="17">五、作业： P8 7、9题，P9 13题， 个人修改</text></g>
<g id="d45" class="n2" transform="translate(1930,3314)"><rect width="44" height="25"/><text x="6" y="17">口算:</text></g>
<g id="d46" class="n2" transform="translate(1574,3363)"><rect width="51" height="25"/><text x="6" y="17">5.2×0.2</text></g>
<g id="d47" class="n2" transform="translate(1574,3436)"><rect width="57" height="25"/><text x="6" y="17">7.3×0.01</text></g>
<g id="d48" class="n2" transform="translate(1651,3412)"><rect width="54" height="25"/><text x="6" y="17">76×0.03</text></g>
<g id="d49" class="n2" transform="translate(1651,3461)"><rect width="54" height="24"/><text x="6" y="16">75×0.05</text></g>
<g id="d50" class="n2" transform="translate(1574,3510)"><rect width="48" height="24"/><text x="6" y="16">0.05×6</text></g>
<g id="d51" class="n2" transform="translate(1574,3566)"><rect width="57" height="24"/><text x="6" y="16">79.2×0.2</text></g>
<g id="d52" class="n2" transform="translate(1651,3559)"><rect width="233" height="39"/><text x="6" y="17">②根据1056×27=28512，写出下面各题的积<tspan x="6" dy="14">。</tspan></text></g>
<g id="d53" class="n2" transform="translate(1574,3628)"><rect width="233" height="40"/><text x="6" y="17">105.6×2.7= 10.56×0.27= 0.1056×27= 1.0<tspan x="6" dy="14">56×0.27=</tspan></text></g>
<g id="d54" class="n2" transform="translate(1827,3636)"><rect width="66" height="24"/><text x="6" y="16">板书设计:</text></g>
<g id="d55" class="n2" transform="translate(1913,3621)"><rect width="232" height="54"/><text x="6" y="17">教后反思：小数乘小数的乘法是本单元的难点<tspan x="6" dy="14">，学生在计算时错误较多，要继续多练，重点</tspan><tspan x="6" dy="14">练习点小数点。</tspan></text></g>
</g>
<g id="t4nodes">
<g id="e1" class="n4" transform="translate(1574,3699)"><rect width="233" height="39"/><text x="6" y="17">教学目标 1、使学生进一步掌握小数乘法的计<tspan x="6" dy="14">算法则。</tspan></text></g>
<g id="e2" class="n4" transform="translate(1574,3845)"><rect width="233" height="54"/><text x="6" y="17">2、使学生初步理解和掌握：当乘数比1小时，<tspan x="6" dy="14">积比被乘数小;当乘数比1大时，积比被乘数大</tspan><tspan x="6" dy="14">。</tspan></text></g>
<g id="e3" class="n4" transform="translate(1827,3761)"><rect width="231" height="40"/><text x="6" y="17">教学重点 运用小数乘法的计算法则正确计算<tspan x="6" dy="14">小数乘法。</tspan></text></g>
<g id="e4" class="n4" transform="translate(1827,3824)"><rect width="231" height="55"/><text x="6" y="17">教学难点 正确点积的小数点;初步理解和掌握<tspan x="6" dy="14">：当乘数比1小时，积比被乘数小;当乘数比1</tspan><tspan x="6" dy="14">大时，积比被乘数大。</tspan></text></g>
<g id="e5" class="n4" transform="translate(1827,3903)"><rect width="169" height="24"/><text x="6" y="16">教具准备 小黑板或投影片若干张</text></g>
<g id="e6" class="n4" transform="translate(1827,3952)"><rect width="135" height="24"/><text x="6" y="16">教学过程 一、复习准备:</text></g>
<g id="e7" class="n4" transform="translate(1574,4000)"><rect width="124" height="25"/><text x="6" y="17">1、口算：P.5页10题。</text></g>
<g id="e8" class="n4" transform="translate(1574,4049)"><rect width="204" height="24"/><text x="6" y="16">0.9×6 7×0.08 1.87×0 0.24×2 1.4×0.3</text></g>
<g id="e9" class="n4" transform="translate(1574,4097)"><rect width="162" height="25"/><text x="6" y="17">0.12×6 1.6×5 4×0.25 60×0.5</text></g>
<g id="e10" class="n4" transform="translate(1756,4097)"><rect width="198" height="25"/><text x="6" y="17">老师抽卡片，学生写结果，集体订正。</text></g>
<g id="e11" class="n4" transform="translate(1574,4146)"><rect width="205" height="25"/><text x="6" y="17">2、不计算，说出下面的积有几位小数。</text></g>
<g id="e12" class="n4" transform="translate(1574,4195)"><rect width="85" height="25"/><text x="6" y="17">2.4× = 1.2× =</text></g>
<g id="e13" class="n4" transform="translate(1574,4244)"><rect width="233" height="39"/><text x="6" y="17">4、揭示课题：这节课我们继续学习小数乘法<tspan x="6" dy="14">。(板书课题：较复杂的小数乘法)。</tspan></text></g>
<g id="e14" class="n4" transform="translate(1827,4252)"><rect width="66" height="24"/><text x="6" y="16">二、新授:</text></g>
<g id="e15" class="n4" transform="translate(1574,4421)"><rect width="233" height="54"/><text x="6" y="17">1、教学例5:非洲野狗的速度是56千米/小时,<tspan x="6" dy="14">鸵鸟的速度是非洲野狗的1.3倍,鸵鸟的速度是</tspan><tspan x="6" dy="14">多少千米/小时?</tspan></text></g>
<g id="e16" class="n4" transform="translate(1827,4307)"><rect width="231" height="68"/><text x="6" y="17">(1)想一想这只非洲够能追上这只鸵鸟吗?为什<tspan x="6" dy="14">么?(鸵鸟的速度是非洲狗的1.3倍,表示鸵鸟的</tspan><tspan x="6" dy="14">速度除了有一个非洲狗那么多,还要多，所以</tspan><tspan x="6" dy="14">非洲狗追不上鸵鸟。)</tspan></text></g>
<g id="e17" class="n4" transform="translate(1827,4400)"><rect width="176" height="24"/><text x="6" y="16">(2)是这样的吗?我们一起来算一算?</text></g>
<g id="e18" class="n4" transform="translate(1827,4535)"><rect width="231" height="39"/><text x="6" y="17">① 怎样列式? ②为什么这样列式?(求56的1.3<tspan x="6" dy="14">倍是多少,所以用乘法.)</tspan></text></g>
<g id="e19" class="n4" transform="translate(2079,4448)"><rect width="231" height="40"/><text x="6" y="17">使学生明确：现在倍数关系也可以是比1大的<tspan x="6" dy="14">小数。</tspan></text></g>
<g id="e20" class="n4" transform="translate(2079,4511)"><rect width="198" height="24"/><text x="6" y="16">(3)生独立完成，指名板演，集体订正。</text></g>
<g id="e21" class="n4" transform="translate(2079,4560)"><rect width="141" height="24"/><text x="6" y="16">(4)算得对吗?可以怎样验算?</text></g>
<g id="e22" class="n4" transform="translate(2079,4608)"><rect width="231" height="69"/><text x="6" y="17">(5)通过刚才同学们的计算、验算，鸵鸟的速度<tspan x="6" dy="14">是72.8千米/小时,比非洲狗的速度怎样?能追</tspan><tspan x="6" dy="14">上鸵鸟吗?说明刚才我们的想法怎样?现在我们</tspan><tspan x="6" dy="14">再来看一组题。</tspan></text></g>
<g id="e23" class="n4" transform="translate(1789,4699)"><rect width="232" height="40"/><text x="6" y="17">①(出示练习一 10题中积和被乘数的大小)先<tspan x="6" dy="14">计算。</tspan></text></g>
<g id="e24" class="n4" transform="translate(1789,4763)"><rect width="232" height="40"/><text x="6" y="17">②引导学生观察：这两道例题的乘数分别与1<tspan x="6" dy="14">比较，你发现什么?</tspan></text></g>
<g id="e25" class="n4" transform="translate(1789,4826)"><rect width="232" height="96"/><text x="6" y="17">③乘数比1大或者比1小时积的大小与被乘数<tspan x="6" dy="14">有什么关系?为什么?(因为1.20.4的乘数是0.4</tspan><tspan x="6" dy="14">比1小，求的积还不足一个1.2，所以积比被乘</tspan><tspan x="6" dy="14">数小;而2. 4×3的乘数是3比1大，求的积是2.4</tspan><tspan x="6" dy="14">的3倍(或3个2.4那么多)，所以积比被乘数大</tspan><tspan x="6" dy="14">。</tspan></text></g>
<g id="e26" class="n4" transform="translate(1789,4946)"><rect width="232" height="68"/><text x="6" y="17">④你能得出结论吗?(当乘数比1小时，积比被<tspan x="6" dy="14">乘数小;当乘数比1大时，积比被乘数大。我们</tspan><tspan x="6" dy="14">可以根据它们的这种关系初步判断小数乘法的</tspan><tspan x="6" dy="14">正误。)</tspan></text></g>
<g id="e27" class="n4" transform="translate(2042,4967)"><rect width="55" height="25"/><text x="6" y="17">三、运用</text></g>
<g id="e28" class="n4" transform="translate(1574,4837)"><rect width="195" height="25"/><text x="6" y="17">2、看乘数，比较积和被乘数的大小。</text></g>
<g id="e29" class="n4" transform="translate(1574,5036)"><rect width="233" height="40"/><text x="6" y="17">1、做一做： 3.2×2.5= 0.8 2.6×1.08=2.708<tspan x="6" dy="14">先判断，把不对的改正过来。</tspan></text></g>
<g id="e30" class="n4" transform="translate(1574,5124)"><rect width="80" height="25"/><text x="6" y="17">2、P.9页13题</text></g>
<g id="e31" class="n4" transform="translate(1674,5100)"><rect width="163" height="25"/><text x="6" y="17">四、体验 今天，你有什么收获?</text></g>
<g id="e32" class="n4" transform="translate(1674,5149)"><rect width="199" height="25"/><text x="6" y="17">五、作业：P8 页8题，P9 页11、14题</text></g>
<g id="e33" class="n4" transform="translate(1893,5149)"><rect width="55" height="25"/><text x="6" y="17">个人修改</text></g>
<g id="e34" class="n4" transform="translate(1574,5251)"><rect width="95" height="25"/><text x="6" y="17">3、思考并回答。</text></g>
<g id="e35" class="n4" transform="translate(1689,5236)"><rect width="232" height="54"/><text x="6" y="17">(1)做小数乘法时，怎样确定积的小数位数?(2)<tspan x="6" dy="14">如果积的小数位数不够，你知道该怎么办吗?</tspan><tspan x="6" dy="14">如：0.02×0.4。</tspan></text></g>
<g id="e36" class="n4" transform="translate(1941,5236)"><rect width="232" height="54"/><text x="6" y="17">⑤专项练习：练习一 12题先让学生独立判断<tspan x="6" dy="14">，集体订正时，让学生讲明道理，明白每一小</tspan><tspan x="6" dy="14">题错在什么地方。</tspan></text></g>
<g id="e37" class="n4" transform="translate(2194,5251)"><rect width="66" height="25"/><text x="6" y="17">板书设计:</text></g>
<g id="e38" class="n4" transform="translate(2280,5197)"><rect width="232" height="40"/><text x="6" y="17">当乘数比1小时，积比被乘数小;当乘数比1大<tspan x="6" dy="14">时，积比被乘数大。</tspan></text></g>
<g id="e39" class="n4" transform="translate(2280,5260)"><rect width="232" height="97"/><text x="6" y="17">教后反思：在指导学生在积上应怎样点小数点<tspan x="6" dy="14">，这是关键，也是教学难点，要强调整个一道</tspan><tspan x="6" dy="14">乘法算式中共有几位小数，在积中就点几位小</tspan><tspan x="6" dy="14">数。其中的道理也要让学生明确。把小数看成</tspan><tspan x="6" dy="14">整数，是先扩大几倍，最后也要缩小相同的倍</tspan><tspan x="6" dy="14">数，所以要在积中点几位小数。</tspan></text></g>
</g>
<g id="t6nodes">
<g id="f1" class="n6" transform="translate(1574,5381)"><rect width="167" height="25"/><text x="6" y="17">★ 最新五年级鼎尖教案数学模板</text></g>
<g id="f2" class="n6" transform="translate(1574,5430)"><rect width="210" height="25"/><text x="6" y="17">★ 最新五年级第四单元数学鼎尖教案文案</text></g>
<g id="f3" class="n6" transform="translate(1574,5479)"><rect width="226" height="24"/><text x="6" y="16">★ 2021人教版五年级下册数学全册教案范文</text></g>
<g id="f4" class="n6" transform="translate(1574,5528)"><rect width="226" height="24"/><text x="6" y="16">★ 人教版小学数学五年级下册教案2021模板</text></g>
<g id="f5" class="n6" transform="translate(1574,5577)"><rect width="194" height="24"/><text x="6" y="16">★ 五年级下册数学练习题及答案-春游</text></g>
<g id="f6" class="n6" transform="translate(1574,5626)"><rect width="171" height="24"/><text x="6" y="16">★ 2021最新五年级数学下册教案</text></g>
<g id="f7" class="n6" transform="translate(1574,5675)"><rect width="171" height="24"/><text x="6" y="16">★ 2021五年级下册数学教案范文</text></g>
<g id="f8" class="n6" transform="translate(1574,5723)"><rect width="171" height="25"/><text x="6" y="17">★ 数学五年级下册教案2021例文</text></g>
<g id="f9" class="n6" transform="translate(1574,5772)"><rect width="194" height="25"/><text x="6" y="17">★ 五年级下册数学2021最新春季教案</text></g>
<g id="f10" class="n6" transform="translate(1574,5821)"><rect width="233" height="40"/><text x="6" y="17">★ 2021人教版五年级下册数学第一单元教案<tspan x="6" dy="14">模板</tspan></text></g>
</g>
<g id="watermarks">
<text class="wm" transform="translate(647,515) rotate(-31.5)" text-anchor="middle">树图 shutu.cn</text>
<text class="wm" transform="translate(647,1515) rotate(-31.5)" text-anchor="middle">树图 shutu.cn</text>
<text class="wm" transform="translate(647,2515) rotate(-31.5)" text-anchor="middle">树图 shutu.cn</text>
<text class="wm" transform="translate(647,3515) rotate(-31.5)" text-anchor="middle">树图 shutu.cn</text>
<text class="wm" transform="translate(647,4515) rotate(-31.5)" text-anchor="middle">树图 shutu.cn</text>
<text class="wm" transform="translate(647,5515) rotate(-31.5)" text-anchor="middle">树图 shutu.cn</text>
<text class="wm" transform="translate(647,6515) rotate(-31.5)" text-anchor="middle">树图 shutu.cn</text>
<text class="wm" transform="translate(1928,1515) rotate(-31.5)" text-anchor="middle">树图 shutu.cn</text>
<text class="wm" transform="translate(1928,2505) rotate(-31.5)" text-anchor="middle">树图 shutu.cn</text>
<text class="wm" transform="translate(1960,3470) rotate(-31.5)" text-anchor="middle">树图 shutu.cn</text>
<text class="wm" transform="translate(1928,4497) rotate(-31.5)" text-anchor="middle">树图 shutu.cn</text>
<text class="wm" transform="translate(1928,5455) rotate(-31.5)" text-anchor="middle">树图 shutu.cn</text>
</g>
</g>
</svg>
